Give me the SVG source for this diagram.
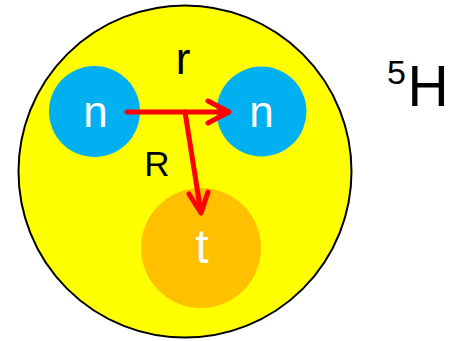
<svg xmlns="http://www.w3.org/2000/svg" width="452" height="341" viewBox="0 0 452 341">
<style>
text{font-family:"Liberation Sans",Arial,sans-serif;text-anchor:middle}
.w{fill:#ffffff}
.k{fill:#000000}
.arr{stroke:#ff0000;stroke-width:5;fill:none;stroke-linecap:round;stroke-linejoin:round}
</style>
<rect width="452" height="341" fill="#ffffff"/>
<g id="nucleus">
<ellipse cx="185" cy="171.5" rx="166.5" ry="166" fill="#ffff00" stroke="#000000" stroke-width="2"/>
</g>
<g id="n1">
<circle cx="94.5" cy="111.5" r="45.5" fill="#00b0f0"/>
<text class="w" x="95.5" y="127" font-size="44">n</text>
</g>
<g id="n2">
<circle cx="261.5" cy="111.5" r="45" fill="#00b0f0"/>
<text class="w" x="261.5" y="127" font-size="44">n</text>
</g>
<g id="t">
<circle cx="201" cy="248" r="60" fill="#ffc000"/>
<text class="w" x="202" y="263" font-size="48">t</text>
</g>
<g id="connectors">
<path class="arr" d="M127 112 L229 112 M208 101 L229 112 L208 123"/>
<path class="arr" d="M185 112 L201 213 M189 194 L201 213 L208 192"/>
</g>
<g id="labels">
<text class="k" x="183" y="74" font-size="44">r</text>
<text class="k" x="157" y="175.5" font-size="35">R</text>
<text class="k" x="396.5" y="84" font-size="34">5</text>
<text class="k" x="428" y="106" font-size="57">H</text>
</g>
</svg>
